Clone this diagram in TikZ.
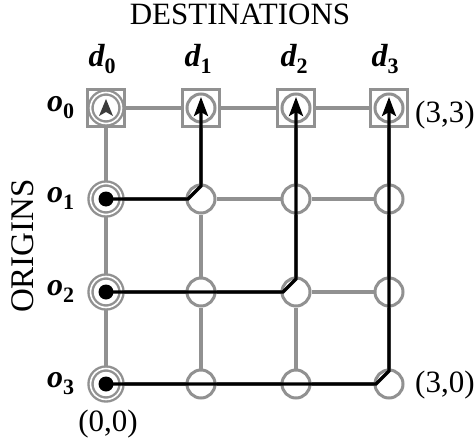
\documentclass[tikz,border=0pt]{standalone}
\usepackage{fontspec}
\setmainfont{Liberation Serif}
\usetikzlibrary{arrows.meta,calc}
\definecolor{gg}{RGB}{145,145,145}
\definecolor{hg}{RGB}{60,60,60}
\newcommand{\ilab}[2]{{\bfseries\itshape #1}\raisebox{-7pt}{\fontsize{22}{22}\selectfont\bfseries #2}}
\tikzset{
  x=1pt, y=-1pt,
  gridline/.style={draw=gg, line width=3.2pt},
  plain/.style={circle, draw=gg, line width=3pt, fill=white, minimum size=28pt, inner sep=0pt},
  orig/.style={circle, draw=gg, line width=2.4pt, double=white, double distance=1.6pt, fill=white, minimum size=31pt, inner sep=0pt},
  sq/.style={rectangle, draw=gg, line width=2.6pt, fill=white, minimum size=37pt, inner sep=0pt},
  bdot/.style={circle, fill=black, minimum size=15pt, inner sep=0pt},
  route/.style={draw=black, line width=3.2pt, line join=miter},
  rarrow/.style={route, -{Stealth[length=19pt,width=14pt,inset=4pt]}},
  lab/.style={inner sep=0pt, font=\fontsize{31}{31}\selectfont},
  dl/.style={inner sep=0pt, font=\fontsize{32}{32}\selectfont, anchor=base},
}
\begin{document}
\begin{tikzpicture}
\useasboundingbox (0,0) rectangle (476,441);
% coordinates of grid
\def\cA{106}\def\cB{201}\def\cC{296}\def\cD{389}
\def\rA{108}\def\rB{199}\def\rC{292}\def\rD{384}
% squares for destinations
\node[sq] (s0) at (\cA,\rA) {};
\node[sq] (s1) at (\cB,\rA) {};
\node[sq] (s2) at (\cC,\rA) {};
\node[sq] (s3) at (\cD,\rA) {};
% nodes
\node[orig] (n00) at (\cA,\rA) {};
\node[plain] (n10) at (\cB,\rA) {};
\node[plain] (n20) at (\cC,\rA) {};
\node[plain] (n30) at (\cD,\rA) {};
\node[orig] (n01) at (\cA,\rB) {};
\node[plain] (n11) at (\cB,\rB) {};
\node[plain] (n21) at (\cC,\rB) {};
\node[plain] (n31) at (\cD,\rB) {};
\node[orig] (n02) at (\cA,\rC) {};
\node[plain] (n12) at (\cB,\rC) {};
\node[plain] (n22) at (\cC,\rC) {};
\node[plain] (n32) at (\cD,\rC) {};
\node[orig] (n03) at (\cA,\rD) {};
\node[plain] (n13) at (\cB,\rD) {};
\node[plain] (n23) at (\cC,\rD) {};
\node[plain] (n33) at (\cD,\rD) {};
% grid lines
\draw[gridline] (s0) -- (s1);
\draw[gridline] (s1) -- (s2);
\draw[gridline] (s2) -- (s3);
\draw[gridline] (s0) -- (n01);
\draw[gridline] (s1) -- (n11);
\draw[gridline] (s2) -- (n21);
\draw[gridline] (s3) -- (n31);
\foreach \r/\rn in {1/2,2/3} {
  \foreach \c in {0,1,2,3} {
    \draw[gridline] (n\c\r) -- (n\c\rn);
  }
}
\foreach \r in {1,2,3} {
  \draw[gridline] (n0\r) -- (n1\r);
  \draw[gridline] (n1\r) -- (n2\r);
  \draw[gridline] (n2\r) -- (n3\r);
}
% grey arrowhead in d0
\fill[hg] ($(n00.center)+(0,-9)$) -- ($(n00.center)+(7,8)$) -- ($(n00.center)+(0,4)$) -- ($(n00.center)+(-7,8)$) -- cycle;
% black origin dots
\node[bdot] (b1) at (n01.center) {};
\node[bdot] (b2) at (n02.center) {};
\node[bdot] (b3) at (n03.center) {};
% routes
\draw[rarrow] (b1.center) -- ($(n11.center)+(-13,0)$) -- ($(n11.center)+(0,-13)$) -- ($(n10.center)+(0,-11)$);
\draw[rarrow] (b2.center) -- ($(n22.center)+(-13,0)$) -- ($(n22.center)+(0,-13)$) -- ($(n20.center)+(0,-11)$);
\draw[rarrow] (b3.center) -- ($(n33.center)+(-13,0)$) -- ($(n33.center)+(0,-13)$) -- ($(n30.center)+(0,-11)$);
% labels
\node[lab, anchor=base] (title) at (240,25) {DESTINATIONS};
\node[lab, anchor=base, rotate=90, font=\fontsize{33}{33}\selectfont] (side) at (33,246) {ORIGINS};
\node[dl] (d0) at (\cA-4,67) {\ilab{d}{0}};
\node[dl] (d1) at (\cB-3,67) {\ilab{d}{1}};
\node[dl] (d2) at (\cC-2,67) {\ilab{d}{2}};
\node[dl] (d3) at (\cD-4,67) {\ilab{d}{3}};
\node[dl, anchor=base west] (o0) at (47,\rA+3) {\ilab{o}{0}};
\node[dl, anchor=base west] (o1) at (47,\rB+3) {\ilab{o}{1}};
\node[dl, anchor=base west] (o2) at (47,\rC+3) {\ilab{o}{2}};
\node[dl, anchor=base west] (o3) at (47,\rD+3) {\ilab{o}{3}};
\node[lab, anchor=base west] (l33) at (415,122) {(3,3)};
\node[lab, anchor=base west] (l30) at (415,392) {(3,0)};
\node[lab, anchor=base] (l00) at (108,431) {(0,0)};
\end{tikzpicture}
\end{document}
